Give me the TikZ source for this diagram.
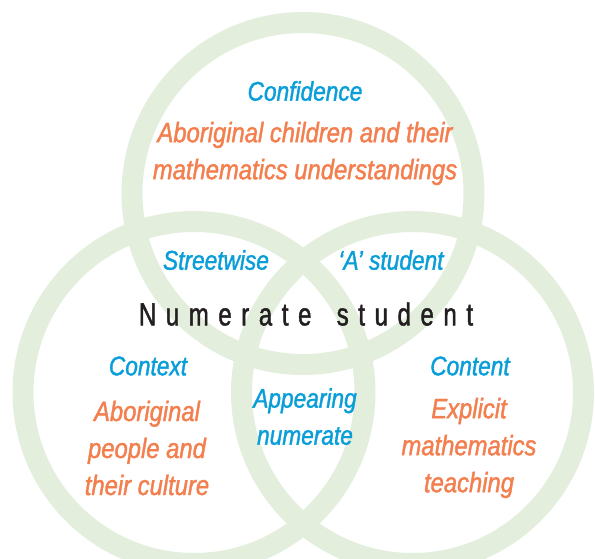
\documentclass[tikz,border=0pt]{standalone}
\usepackage{fontspec}
\setmainfont{Liberation Sans}
\newfontfamily\headfont{Liberation Sans}[FakeStretch=0.84,FakeBold=1.4]
\newfontfamily\vennfont{Liberation Sans}[FakeStretch=0.85,FakeBold=1.4]
\newfontfamily\numfont{Liberation Sans}[FakeStretch=0.75,FakeBold=1.4,LetterSpace=30]
\definecolor{ringgreen}{HTML}{E3EFDC}
\definecolor{theme}{HTML}{0A9ED9}
\definecolor{detail}{HTML}{F37E4E}
\definecolor{ink}{HTML}{231F20}
\tikzset{
  ring/.style={draw=ringgreen, line width=21pt},                         % venn circle
  head/.style={font=\headfont\itshape\fontsize{27}{37}\selectfont, text=theme,
               align=center, inner sep=0pt},                              % blue heading
  body/.style={font=\vennfont\itshape\fontsize{28}{37}\selectfont, text=detail,
               align=center, inner sep=0pt},                              % orange text
  core/.style={font=\numfont\fontsize{32}{34}\selectfont, text=ink, inner sep=0pt},
}
\begin{document}
\begin{tikzpicture}[x=1pt, y=-1pt]
  \useasboundingbox (0,0) rectangle (595,559);
  \draw[ring] (303,193.5) circle[radius=171];
  \draw[ring] (194,392.5) circle[radius=171];
  \draw[ring] (412.5,392.5) circle[radius=171];
  \node[head] (conf)   at (305,91)  {Confidence};
  \node[body] (child)  at (305,153.5) {Aboriginal children and their\\mathematics understandings};
  \node[head] (street) at (216,260) {Streetwise};
  \node[head] (astud)  at (391,260) {‘A’ student};
  \node[core] (num)    at (306,314) {Numerate\hspace{9pt} student};
  \node[head] (ctx)    at (148,366) {Context};
  \node[head] (cnt)    at (470,366) {Content};
  \node[body] (people) at (147,448) {Aboriginal\\people and\\their culture};
  \node[head] (appear) at (305,416.5) {Appearing\\numerate};
  \node[body] (teach)  at (469,448) {Explicit\\mathematics\\teaching};
\end{tikzpicture}
\end{document}
